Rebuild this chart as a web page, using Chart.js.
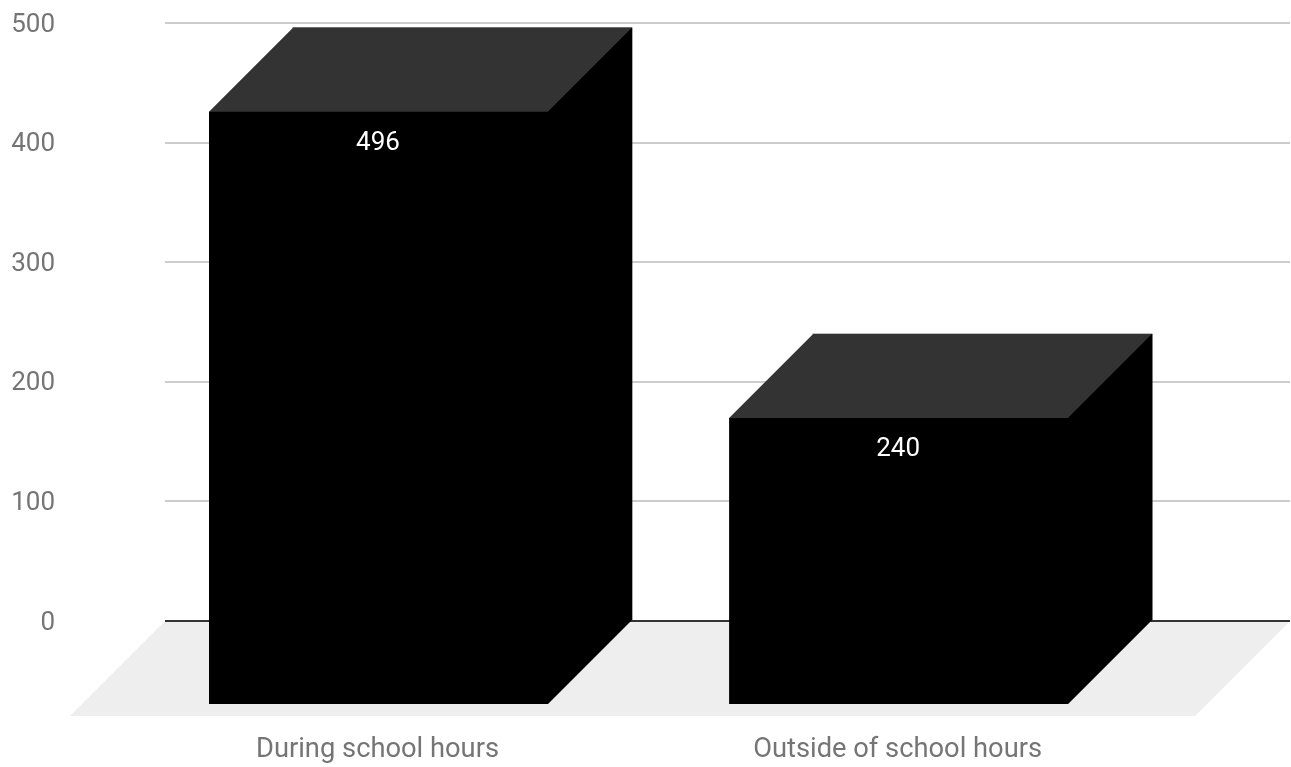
<!DOCTYPE html>
<html>
<head>
<meta charset="utf-8">
<style>html,body{margin:0;padding:0;background:#fff}canvas{display:block}</style>
<script src="https://cdn.jsdelivr.net/npm/chart.js@4"></script>
</head>
<body>
<canvas id="chart" width="1291" height="767"></canvas>
<script>
const categories = ['During school hours', 'Outside of school hours'];
const categoryPositions = [0, 1];
const values = [496, 240];
const yTickValues = [0, 100, 200, 300, 400, 500];

const DEPTH = 84;
const FONT = 'Roboto';

// Extrudes each bar toward the viewer and lays a grey floor under the plot.
const box3d = {
  id: 'box3d',
  beforeDraw(chart) {
    const { ctx, chartArea: a } = chart;
    const y0 = chart.scales.y.getPixelForValue(0);
    ctx.save();
    ctx.fillStyle = '#eeeeee';
    ctx.beginPath();
    ctx.moveTo(a.left, y0);
    ctx.lineTo(a.right, y0);
    ctx.lineTo(a.right - 95, y0 + 95);
    ctx.lineTo(a.left - 95, y0 + 95);
    ctx.closePath();
    ctx.fill();
    ctx.restore();
  },
  afterDatasetsDraw(chart) {
    const { ctx } = chart;
    chart.getDatasetMeta(0).data.forEach((bar, i) => {
      const l = bar.x - bar.width / 2, r = bar.x + bar.width / 2;
      const t = bar.y, b = bar.base, d = DEPTH;
      ctx.save();
      // lid, running slightly under the body so no seam shows
      ctx.fillStyle = '#333333';
      ctx.beginPath();
      ctx.moveTo(l, t); ctx.lineTo(r, t); ctx.lineTo(r - d, t + d);
      ctx.lineTo(r - d, t + d + 1); ctx.lineTo(l - d, t + d + 1); ctx.lineTo(l - d, t + d);
      ctx.closePath(); ctx.fill();
      // front face and side wall as one outline
      ctx.fillStyle = '#000000';
      ctx.beginPath();
      ctx.moveTo(l - d, t + d); ctx.lineTo(r - d, t + d); ctx.lineTo(r, t);
      ctx.lineTo(r, b); ctx.lineTo(r - d, b + d); ctx.lineTo(l - d, b + d);
      ctx.closePath(); ctx.fill();
      // value label
      ctx.fillStyle = '#ffffff';
      ctx.font = '26px ' + FONT;
      ctx.textAlign = 'center';
      ctx.textBaseline = 'middle';
      ctx.fillText(String(values[i]), bar.x - d - 0.5, t + d + 32);
      ctx.restore();
    });
  }
};

new Chart(document.getElementById('chart'), {
  type: 'bar',
  data: {
    datasets: [{
      data: categoryPositions.map((x, i) => ({ x, y: values[i] })),
      backgroundColor: '#000000',
      barThickness: 339
    }]
  },
  options: {
    responsive: false,
    animation: false,
    events: [],
    layout: { padding: { top: 23, right: 1, left: 0, bottom: 0 } },
    plugins: { legend: { display: false }, tooltip: { enabled: false } },
    scales: {
      x: {
        type: 'linear',
        offset: false,
        min: -0.572,
        max: 1.591,
        afterFit(s) { s.height = 146; s.paddingLeft = 0; s.paddingRight = 0; },
        afterBuildTicks(s) { s.ticks = categoryPositions.map(value => ({ value })); },
        grid: { display: false, drawTicks: false },
        border: { display: false },
        ticks: {
          autoSkip: false,
          maxRotation: 0,
          padding: 113,
          labelOffset: -85,
          color: '#757575',
          font: { family: FONT, size: 27.3 },
          callback: v => categories[v]
        }
      },
      y: {
        min: 0,
        max: 500,
        afterFit(s) { s.width = 165; s.paddingTop = 0; s.paddingBottom = 0; },
        afterBuildTicks(s) { s.ticks = yTickValues.map(value => ({ value })); },
        grid: {
          drawTicks: false,
          lineWidth: 2,
          color: c => (c.tick && c.tick.value === 0 ? '#333333' : '#cccccc')
        },
        border: { display: false },
        ticks: {
          padding: 110,
          labelOffset: 2,
          color: '#757575',
          font: { family: FONT, size: 26 }
        }
      }
    }
  },
  plugins: [box3d]
});
</script>
</body>
</html>
